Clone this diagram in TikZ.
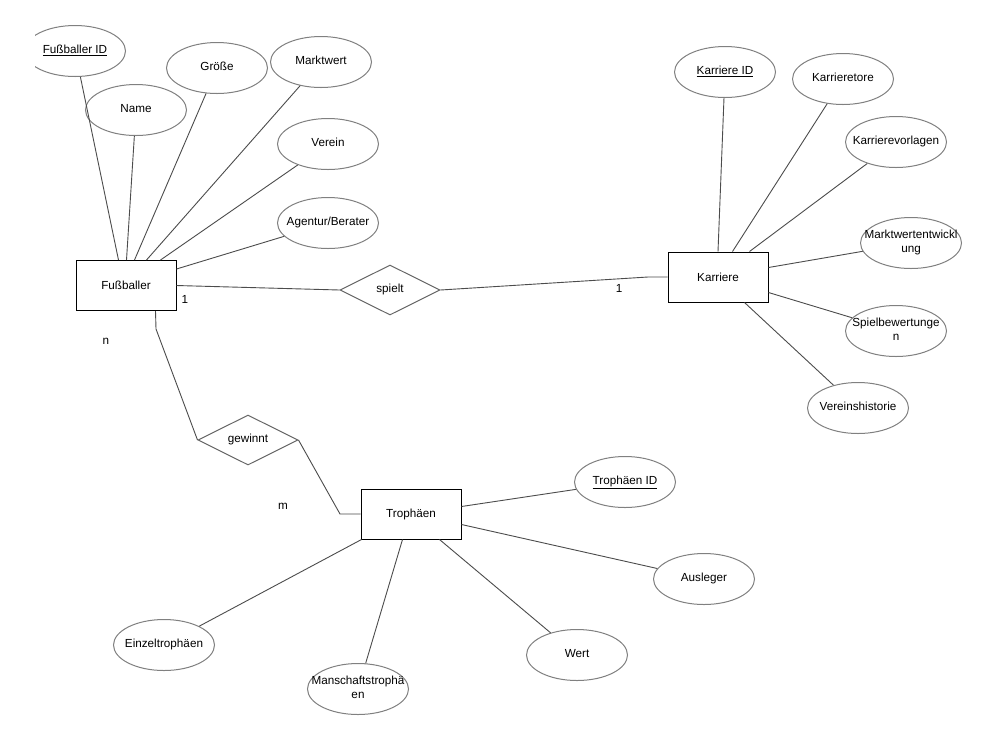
\documentclass[tikz,border=0pt]{standalone}
\usepackage{fontspec}
\setmainfont{Liberation Sans}
\usetikzlibrary{shapes.geometric}
\newcommand{\fixtext}[1]{\makebox[0pt][c]{\begin{tabular}{@{}c@{}}#1\end{tabular}}}
\tikzset{
  attr/.style={ellipse, draw=black!50, line width=1pt, minimum width=101pt, minimum height=51pt, inner sep=0pt, font=\fontsize{11.7}{14}\selectfont},
  ent/.style={rectangle, draw=black, line width=1pt, minimum width=100pt, minimum height=50pt, inner sep=0pt, font=\fontsize{11.7}{14}\selectfont},
  rel/.style={diamond, draw=black!60, line width=1pt, minimum width=100pt, minimum height=50pt, inner sep=0pt, aspect=2, font=\fontsize{11.7}{14}\selectfont},
  conn/.style={draw=black!70, line width=0.9pt},
  card/.style={inner sep=0pt, font=\fontsize{11.7}{14}\selectfont}
}
\begin{document}
\begin{tikzpicture}[x=1pt,y=-1pt]
\useasboundingbox (0,0) rectangle (987,740);
\fill[white] (0,0) rectangle (987,740);

% entities
\node[ent] (fb) at (126,285.5) {Fußballer};
\node[ent] (kr) at (718,277) {Karriere};
\node[ent] (tr) at (411,514) {Trophäen};

% relationships
\node[rel] (sp) at (390,290) {\fixtext{spielt}};
\node[rel] (gw) at (248,440) {\fixtext{gewinnt}};

% Fußballer attributes
\begin{scope}
  \clip (35,0) rectangle (200,120);
  \node[attr] (fid) at (75,51) {\fixtext{\underline{Fußballer ID}}};
\end{scope}
\node[attr] (name) at (136,110) {\fixtext{Name}};
\node[attr] (gr) at (217,68) {\fixtext{Größe}};
\node[attr] (mw) at (321,62) {\fixtext{Marktwert}};
\node[attr] (ver) at (328,144) {\fixtext{Verein}};
\node[attr] (ag) at (328,223) {\fixtext{Agentur/Berater}};

% Karriere attributes
\node[attr] (kid) at (725,72) {\fixtext{\underline{Karriere ID}}};
\node[attr] (kt) at (843,79) {\fixtext{Karrieretore}};
\node[attr] (kv) at (896,142) {\fixtext{Karrierevorlagen}};
\node[attr] (mwe) at (911,243) {\fixtext{Marktwertentwickl\\ung}};
\node[attr] (sb) at (896,331) {\fixtext{Spielbewertunge\\n}};
\node[attr] (vh) at (858,408) {\fixtext{Vereinshistorie}};

% Trophäen attributes
\node[attr] (tid) at (625,482) {\fixtext{\underline{Trophäen ID}}};
\node[attr] (aus) at (704,579) {\fixtext{Ausleger}};
\node[attr] (wert) at (577,655) {\fixtext{Wert}};
\node[attr] (ms) at (358,689) {\fixtext{Manschaftstrophä\\en}};
\node[attr] (ez) at (164,645) {\fixtext{Einzeltrophäen}};

% cardinalities
\node[card] (c1) at (185,299) {1};
\node[card] (c2) at (619,288) {1};
\node[card] (cn) at (106,341) {n};
\node[card] (cm) at (283,506) {m};

% connectors Fußballer
\draw[conn] (fid) -- ([xshift=43pt]fb.north west);
\draw[conn] (name) -- ([xshift=51pt]fb.north west);
\draw[conn] (gr) -- ([xshift=59pt]fb.north west);
\draw[conn] (mw) -- ([xshift=71pt]fb.north west);
\draw[conn] (ver) -- ([xshift=85pt]fb.north west);
\draw[conn] (ag) -- ([yshift=-9pt]fb.north east);

% spielt
\coordinate (spbend) at (648,277);
\draw[conn] (fb.east) -- (sp.west);
\draw[conn] (sp.east) -- (spbend) -- (kr.west);

% Karriere connectors
\draw[conn] (kid) -- (kr.north);
\draw[conn] (kt) -- ([xshift=65pt]kr.north west);
\draw[conn] (kv) -- ([xshift=82pt]kr.north west);
\draw[conn] (mwe) -- ([yshift=-16pt]kr.north east);
\draw[conn] (sb) -- ([yshift=-41pt]kr.north east);
\draw[conn] (vh) -- ([xshift=77pt]kr.south west);

% gewinnt
\coordinate (gwb1) at (156,329);
\coordinate (gwb2) at (340,514);
\draw[conn] ([xshift=80pt]fb.south west) -- (gwb1) -- (gw.west);
\draw[conn] (gw.east) -- (gwb2) -- (tr.west);

% Trophäen connectors
\draw[conn] (tid) -- ([yshift=-18pt]tr.north east);
\draw[conn] (aus) -- ([yshift=-36pt]tr.north east);
\draw[conn] (wert) -- ([xshift=79pt]tr.south west);
\draw[conn] (ms) -- ([xshift=42pt]tr.south west);
\draw[conn] (ez) -- ([xshift=1pt]tr.south west);
\end{tikzpicture}
\end{document}
